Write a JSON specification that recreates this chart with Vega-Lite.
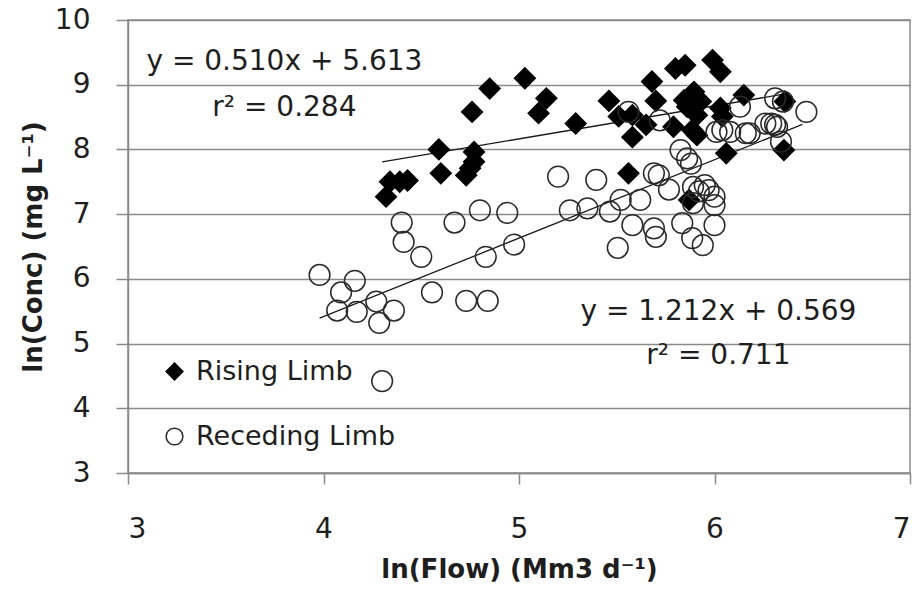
{
  "$schema": "https://vega.github.io/schema/vega-lite/v6.json",
  "width": 782,
  "height": 453,
  "padding": {"left": 128, "top": 20, "right": 5, "bottom": 119},
  "autosize": {"type": "none"},
  "background": "white",
  "config": {
    "font": "DejaVu Sans",
    "view": {"stroke": "#8a8a8a", "strokeWidth": 1.5},
    "axis": {
      "labelFont": "DejaVu Sans", "labelFontSize": 28, "labelColor": "#1e1e1e",
      "titleFont": "DejaVu Sans", "titleFontSize": 26, "titleFontWeight": "bold", "titleColor": "#1e1e1e",
      "domainColor": "#8a8a8a", "domainWidth": 1.5, "tickColor": "#8a8a8a", "tickWidth": 1.5,
      "gridColor": "#8a8a8a", "gridWidth": 1.5, "gridOpacity": 1
    }
  },
  "datasets": {
    "pts": [
      {"flow": 4.32, "conc": 7.27, "limb": "Rising Limb"},
      {"flow": 4.34, "conc": 7.50, "limb": "Rising Limb"},
      {"flow": 4.39, "conc": 7.50, "limb": "Rising Limb"},
      {"flow": 4.43, "conc": 7.52, "limb": "Rising Limb"},
      {"flow": 4.59, "conc": 8.00, "limb": "Rising Limb"},
      {"flow": 4.60, "conc": 7.63, "limb": "Rising Limb"},
      {"flow": 4.73, "conc": 7.60, "limb": "Rising Limb"},
      {"flow": 4.75, "conc": 7.71, "limb": "Rising Limb"},
      {"flow": 4.77, "conc": 7.81, "limb": "Rising Limb"},
      {"flow": 4.77, "conc": 7.96, "limb": "Rising Limb"},
      {"flow": 4.76, "conc": 8.58, "limb": "Rising Limb"},
      {"flow": 4.85, "conc": 8.94, "limb": "Rising Limb"},
      {"flow": 5.03, "conc": 9.10, "limb": "Rising Limb"},
      {"flow": 5.10, "conc": 8.56, "limb": "Rising Limb"},
      {"flow": 5.14, "conc": 8.79, "limb": "Rising Limb"},
      {"flow": 5.29, "conc": 8.40, "limb": "Rising Limb"},
      {"flow": 5.46, "conc": 8.75, "limb": "Rising Limb"},
      {"flow": 5.51, "conc": 8.51, "limb": "Rising Limb"},
      {"flow": 5.58, "conc": 8.53, "limb": "Rising Limb"},
      {"flow": 5.58, "conc": 8.19, "limb": "Rising Limb"},
      {"flow": 5.56, "conc": 7.63, "limb": "Rising Limb"},
      {"flow": 5.65, "conc": 8.38, "limb": "Rising Limb"},
      {"flow": 5.68, "conc": 9.05, "limb": "Rising Limb"},
      {"flow": 5.70, "conc": 8.75, "limb": "Rising Limb"},
      {"flow": 5.79, "conc": 8.35, "limb": "Rising Limb"},
      {"flow": 5.80, "conc": 9.25, "limb": "Rising Limb"},
      {"flow": 5.85, "conc": 9.30, "limb": "Rising Limb"},
      {"flow": 5.99, "conc": 9.38, "limb": "Rising Limb"},
      {"flow": 6.03, "conc": 9.20, "limb": "Rising Limb"},
      {"flow": 5.845, "conc": 8.76, "limb": "Rising Limb"},
      {"flow": 5.88, "conc": 8.71, "limb": "Rising Limb"},
      {"flow": 5.895, "conc": 8.89, "limb": "Rising Limb"},
      {"flow": 5.93, "conc": 8.74, "limb": "Rising Limb"},
      {"flow": 5.91, "conc": 8.53, "limb": "Rising Limb"},
      {"flow": 5.886, "conc": 8.30, "limb": "Rising Limb"},
      {"flow": 5.91, "conc": 8.22, "limb": "Rising Limb"},
      {"flow": 6.03, "conc": 8.64, "limb": "Rising Limb"},
      {"flow": 6.04, "conc": 8.51, "limb": "Rising Limb"},
      {"flow": 6.06, "conc": 7.94, "limb": "Rising Limb"},
      {"flow": 6.15, "conc": 8.84, "limb": "Rising Limb"},
      {"flow": 6.36, "conc": 8.74, "limb": "Rising Limb"},
      {"flow": 6.355, "conc": 7.99, "limb": "Rising Limb"},
      {"flow": 5.87, "conc": 7.22, "limb": "Rising Limb"},
      {"flow": 5.86, "conc": 8.66, "limb": "Rising Limb"},
      {"flow": 3.98, "conc": 6.06, "limb": "Receding Limb"},
      {"flow": 4.07, "conc": 5.51, "limb": "Receding Limb"},
      {"flow": 4.09, "conc": 5.79, "limb": "Receding Limb"},
      {"flow": 4.16, "conc": 5.97, "limb": "Receding Limb"},
      {"flow": 4.17, "conc": 5.49, "limb": "Receding Limb"},
      {"flow": 4.27, "conc": 5.65, "limb": "Receding Limb"},
      {"flow": 4.285, "conc": 5.32, "limb": "Receding Limb"},
      {"flow": 4.30, "conc": 4.42, "limb": "Receding Limb"},
      {"flow": 4.36, "conc": 5.51, "limb": "Receding Limb"},
      {"flow": 4.40, "conc": 6.87, "limb": "Receding Limb"},
      {"flow": 4.41, "conc": 6.57, "limb": "Receding Limb"},
      {"flow": 4.50, "conc": 6.34, "limb": "Receding Limb"},
      {"flow": 4.555, "conc": 5.79, "limb": "Receding Limb"},
      {"flow": 4.67, "conc": 6.87, "limb": "Receding Limb"},
      {"flow": 4.73, "conc": 5.66, "limb": "Receding Limb"},
      {"flow": 4.80, "conc": 7.06, "limb": "Receding Limb"},
      {"flow": 4.83, "conc": 6.34, "limb": "Receding Limb"},
      {"flow": 4.84, "conc": 5.66, "limb": "Receding Limb"},
      {"flow": 4.94, "conc": 7.02, "limb": "Receding Limb"},
      {"flow": 4.975, "conc": 6.53, "limb": "Receding Limb"},
      {"flow": 5.20, "conc": 7.58, "limb": "Receding Limb"},
      {"flow": 5.26, "conc": 7.06, "limb": "Receding Limb"},
      {"flow": 5.35, "conc": 7.09, "limb": "Receding Limb"},
      {"flow": 5.395, "conc": 7.53, "limb": "Receding Limb"},
      {"flow": 5.465, "conc": 7.04, "limb": "Receding Limb"},
      {"flow": 5.505, "conc": 6.48, "limb": "Receding Limb"},
      {"flow": 5.52, "conc": 7.22, "limb": "Receding Limb"},
      {"flow": 5.56, "conc": 8.58, "limb": "Receding Limb"},
      {"flow": 5.58, "conc": 6.83, "limb": "Receding Limb"},
      {"flow": 5.62, "conc": 7.22, "limb": "Receding Limb"},
      {"flow": 5.69, "conc": 7.63, "limb": "Receding Limb"},
      {"flow": 5.70, "conc": 6.65, "limb": "Receding Limb"},
      {"flow": 5.69, "conc": 6.78, "limb": "Receding Limb"},
      {"flow": 5.72, "conc": 8.45, "limb": "Receding Limb"},
      {"flow": 5.715, "conc": 7.60, "limb": "Receding Limb"},
      {"flow": 5.767, "conc": 7.38, "limb": "Receding Limb"},
      {"flow": 5.835, "conc": 6.86, "limb": "Receding Limb"},
      {"flow": 5.826, "conc": 7.99, "limb": "Receding Limb"},
      {"flow": 5.86, "conc": 7.86, "limb": "Receding Limb"},
      {"flow": 5.88, "conc": 7.78, "limb": "Receding Limb"},
      {"flow": 5.886, "conc": 6.63, "limb": "Receding Limb"},
      {"flow": 5.94, "conc": 6.52, "limb": "Receding Limb"},
      {"flow": 5.89, "conc": 7.17, "limb": "Receding Limb"},
      {"flow": 5.92, "conc": 7.35, "limb": "Receding Limb"},
      {"flow": 5.95, "conc": 7.45, "limb": "Receding Limb"},
      {"flow": 5.97, "conc": 7.37, "limb": "Receding Limb"},
      {"flow": 6.00, "conc": 7.27, "limb": "Receding Limb"},
      {"flow": 6.00, "conc": 7.14, "limb": "Receding Limb"},
      {"flow": 6.00, "conc": 6.83, "limb": "Receding Limb"},
      {"flow": 6.01, "conc": 8.27, "limb": "Receding Limb"},
      {"flow": 6.04, "conc": 8.30, "limb": "Receding Limb"},
      {"flow": 6.08, "conc": 8.27, "limb": "Receding Limb"},
      {"flow": 6.13, "conc": 8.66, "limb": "Receding Limb"},
      {"flow": 6.16, "conc": 8.25, "limb": "Receding Limb"},
      {"flow": 6.18, "conc": 8.25, "limb": "Receding Limb"},
      {"flow": 6.26, "conc": 8.40, "limb": "Receding Limb"},
      {"flow": 6.29, "conc": 8.40, "limb": "Receding Limb"},
      {"flow": 6.31, "conc": 8.38, "limb": "Receding Limb"},
      {"flow": 6.32, "conc": 8.35, "limb": "Receding Limb"},
      {"flow": 6.31, "conc": 8.79, "limb": "Receding Limb"},
      {"flow": 6.35, "conc": 8.74, "limb": "Receding Limb"},
      {"flow": 6.47, "conc": 8.58, "limb": "Receding Limb"},
      {"flow": 6.34, "conc": 8.12, "limb": "Receding Limb"},
      {"flow": 5.89, "conc": 7.42, "limb": "Receding Limb"}
    ],
    "fits": [
      {"flow": 4.30, "conc": 7.806, "line": "rising"},
      {"flow": 6.36, "conc": 8.857, "line": "rising"},
      {"flow": 3.98, "conc": 5.393, "line": "receding"},
      {"flow": 6.45, "conc": 8.386, "line": "receding"}
    ],
    "labels": [
      {"flow": 3.80, "conc": 9.35, "txt": "y = 0.510x + 5.613"},
      {"flow": 3.80, "conc": 8.64, "txt": "r² = 0.284"},
      {"flow": 6.02, "conc": 5.49, "txt": "y = 1.212x + 0.569"},
      {"flow": 6.02, "conc": 4.81, "txt": "r² = 0.711"}
    ]
  },
  "layer": [
    {
      "data": {"name": "fits"},
      "mark": {"type": "line", "color": "#1a1a1a", "strokeWidth": 1.3},
      "encoding": {
        "x": {"field": "flow", "type": "quantitative", "scale": {"domain": [3, 7], "nice": false, "zero": false},
          "axis": {"values": [3, 4, 5, 6, 7], "format": "d", "grid": false, "tickSize": 11, "labelPadding": 31, "title": "ln(Flow) (Mm3 d⁻¹)", "titlePadding": 13}},
        "y": {"field": "conc", "type": "quantitative", "scale": {"domain": [3, 10], "nice": false, "zero": false},
          "axis": {"values": [3, 4, 5, 6, 7, 8, 9, 10], "format": "d", "grid": true, "tickSize": 12, "labelPadding": 26, "title": "ln(Conc) (mg L⁻¹)", "titlePadding": 8}},
        "detail": {"field": "line"}
      }
    },
    {
      "data": {"name": "pts"},
      "mark": {"type": "point", "filled": false, "strokeWidth": 1.5, "opacity": 1},
      "encoding": {
        "x": {"field": "flow", "type": "quantitative"},
        "y": {"field": "conc", "type": "quantitative"},
        "shape": {"field": "limb", "type": "nominal", "scale": {"domain": ["Rising Limb", "Receding Limb"], "range": ["diamond", "circle"]},
          "legend": {"title": null, "orient": "none", "legendX": 33, "legendY": 338, "labelFontSize": 27, "labelFont": "DejaVu Sans", "labelColor": "#1e1e1e", "labelLimit": 0, "symbolSize": 280, "rowPadding": 37, "labelOffset": 8, "symbolStrokeWidth": 1.5}},
        "fill": {"field": "limb", "type": "nominal", "scale": {"domain": ["Rising Limb", "Receding Limb"], "range": ["#000000", "transparent"]}},
        "stroke": {"field": "limb", "type": "nominal", "scale": {"domain": ["Rising Limb", "Receding Limb"], "range": ["#000000", "#2a2a2a"]}},
        "size": {"value": 430}
      }
    },
    {
      "data": {"name": "labels"},
      "mark": {"type": "text", "font": "DejaVu Sans", "fontSize": 28, "color": "#1e1e1e", "align": "center", "baseline": "middle"},
      "encoding": {
        "x": {"field": "flow", "type": "quantitative"},
        "y": {"field": "conc", "type": "quantitative"},
        "text": {"field": "txt"}
      }
    }
  ]
}
